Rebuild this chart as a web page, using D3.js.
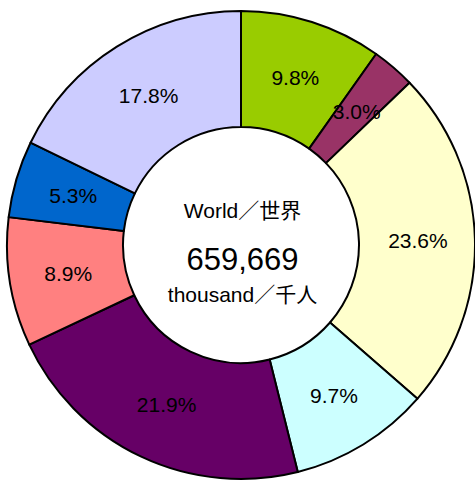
<!DOCTYPE html>
<html><head><meta charset="utf-8">
<script src="https://cdn.jsdelivr.net/npm/d3@7"></script>
<style>body{margin:0;background:#fff}svg{display:block}</style>
</head><body>
<script>
const categories = ["A","B","C","D","E","F","G","H"];
const shares = [9.8, 3.0, 23.6, 9.7, 21.9, 8.9, 5.3, 17.8];
const labels = ["9.8%","3.0%","23.6%","9.7%","21.9%","8.9%","5.3%","17.8%"];
const colors = ["#99CC00","#993366","#FFFFCC","#CCFFFF","#660066","#FF8080","#0066CC","#CCCCFF"];
const centerLines = ["World／世界","659,669","thousand／千人"];

const W=475,H=482, cx=241, cy=245, R=234, r0=118, rl=176;
const ff="'Liberation Sans', Arial, 'Noto Sans CJK JP', sans-serif";
const svg=d3.select("body").append("svg").attr("width",W).attr("height",H);
const g=svg.append("g").attr("transform",`translate(${cx},${cy})`);
const pie=d3.pie().sort(null).value(d=>d);
const arcs=pie(shares);
const arc=d3.arc().innerRadius(r0).outerRadius(R);
const larc=d3.arc().innerRadius(rl).outerRadius(rl);
g.selectAll("path.s").data(arcs).join("path").attr("class","s")
 .attr("d",arc).attr("fill",(d,i)=>colors[i]).attr("stroke","#000").attr("stroke-width",2).attr("stroke-linejoin","round");
g.selectAll("text.l").data(arcs).join("text").attr("class","l")
 .attr("transform",d=>{const c=larc.centroid(d);return `translate(${c[0]+1},${c[1]+7.5})`;})
 .attr("text-anchor","middle")
 .attr("font-family",ff).attr("font-size",21)
 .text((d,i)=>labels[i]);
g.append("text").attr("x",1.5).attr("y",218-cy).attr("text-anchor","middle")
 .attr("font-family",ff).attr("font-size",21).text(centerLines[0]);
g.append("text").attr("x",1.5).attr("y",270-cy).attr("text-anchor","middle")
 .attr("font-family",ff).attr("font-size",31).text(centerLines[1]);
g.append("text").attr("x",1.5).attr("y",302-cy).attr("text-anchor","middle")
 .attr("font-family",ff).attr("font-size",21).text(centerLines[2]);
</script>
</body></html>
